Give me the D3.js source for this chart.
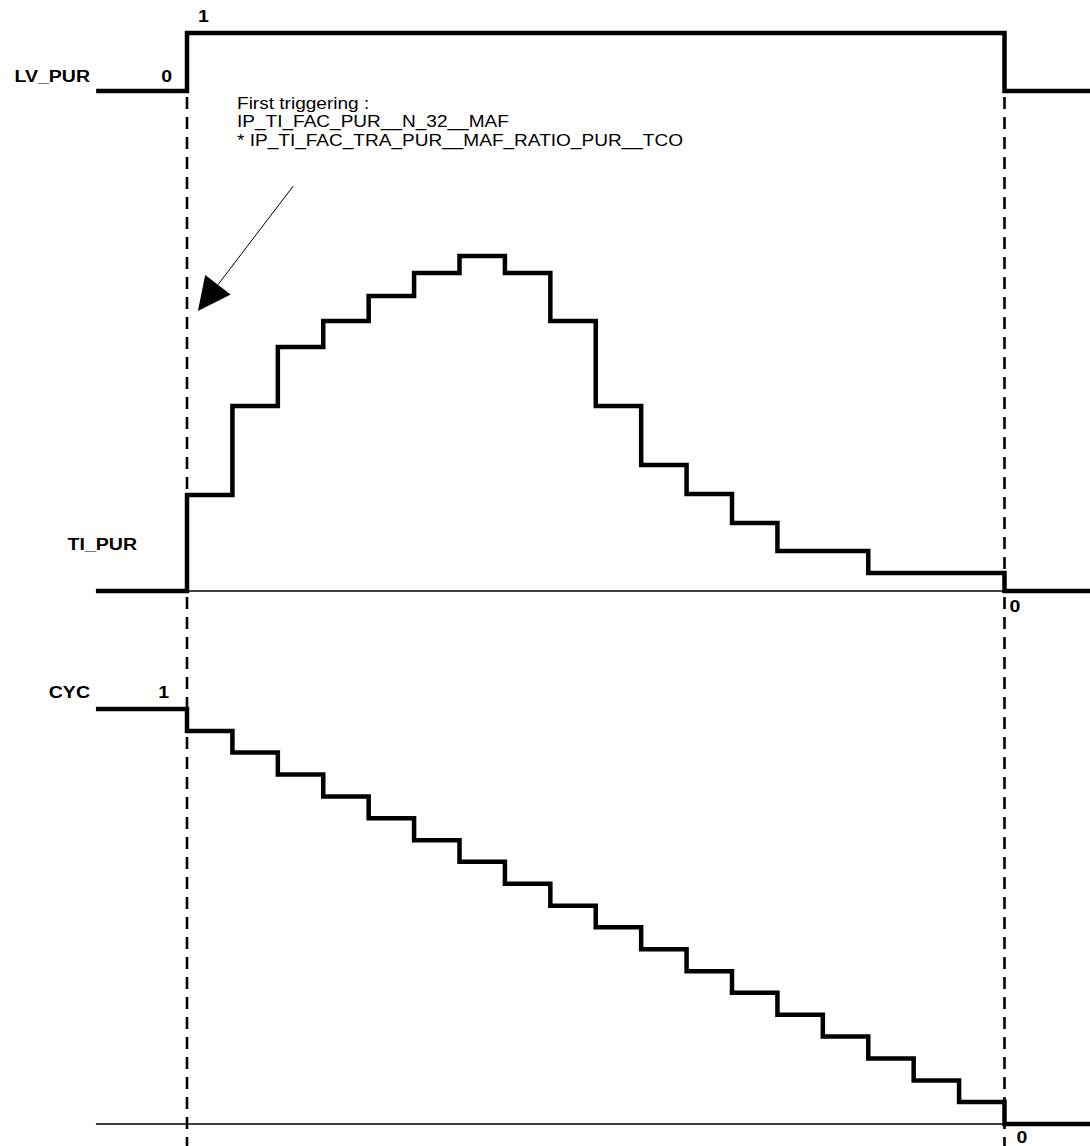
<!DOCTYPE html>
<html>
<head>
<meta charset="utf-8">
<script src="https://cdn.jsdelivr.net/npm/d3@7"></script>
<style>
  html, body { margin: 0; padding: 0; background: #fff; }
  svg { display: block; }
  text { font-family: "Liberation Sans", Arial, sans-serif; fill: #000; }
</style>
</head>
<body>
<svg id="chart" width="1090" height="1146"></svg>
<script>
// ---- data ----
// time axis: cycle index; 0 = rising edge of LV_PUR, 18 = falling edge
const lvTimes  = [-2, 0, 18, 19.9];
const lvPur    = [0, 1, 0, 0];

const cycleIdx = [0,1,2,3,4,5,6,7,8,9,10,11,12,13,14,15,16,17];
const tiPur    = [96,185,244,270,295,318,335,318,270,185,126,97,68,40,40,18,18,18];

const cyc      = [0.947,0.895,0.842,0.789,0.737,0.684,0.632,0.579,0.526,0.474,0.421,0.368,0.316,0.263,0.211,0.158,0.105,0.053];

const signalLabels = ["LV_PUR", "TI_PUR", "CYC"];
const annotationLines = ["First triggering :", "IP_TI_FAC_PUR__N_32__MAF", "* IP_TI_FAC_TRA_PUR__MAF_RATIO_PUR__TCO"];

// ---- scales ----
const svg = d3.select("#chart");
const x = d3.scaleLinear().domain([0, 18]).range([187, 1004.5]);
const xStart = -2.005, xEnd = 19.95;
const yLv  = d3.scaleLinear().domain([0, 1]).range([91, 33]);
const yTi  = d3.scaleLinear().domain([0, 335]).range([591, 256]);
const yCyc = d3.scaleLinear().domain([0, 1]).range([1124, 709]);

const step = (ys) => d3.line().x(d => x(d[0])).y(d => ys(d[1])).curve(d3.curveStepAfter);
const thick = 4.5;

// thin baselines
[[yTi, 0], [yCyc, 0]].forEach(([s, v]) => {
  svg.append("line")
    .attr("x1", x(xStart)).attr("x2", x(xEnd))
    .attr("y1", s(v)).attr("y2", s(v))
    .attr("stroke", "#000").attr("stroke-width", 1.3);
});

// dashed event lines
[0, 18].forEach(t => {
  svg.append("line")
    .attr("x1", x(t)).attr("x2", x(t))
    .attr("y1", yLv(0) + 6).attr("y2", 1146)
    .attr("stroke", "#000").attr("stroke-width", 2.6)
    .attr("stroke-dasharray", "12,8");
});

// LV_PUR
const lvData = lvTimes.map((t, i) => [t, lvPur[i]]);
svg.append("path").attr("d", step(yLv)(lvData))
  .attr("fill", "none").attr("stroke", "#000").attr("stroke-width", thick)
  .attr("stroke-linejoin", "miter");

// TI_PUR
const tiData = [[xStart, 0]].concat(cycleIdx.map((t, i) => [t, tiPur[i]]), [[18, 0], [xEnd, 0]]);
svg.append("path").attr("d", step(yTi)(tiData))
  .attr("fill", "none").attr("stroke", "#000").attr("stroke-width", thick)
  .attr("stroke-linejoin", "miter");

// CYC
const cycData = [[xStart, 1]].concat(cycleIdx.map((t, i) => [t, cyc[i]]), [[18, 0], [xEnd, 0]]);
svg.append("path").attr("d", step(yCyc)(cycData))
  .attr("fill", "none").attr("stroke", "#000").attr("stroke-width", thick)
  .attr("stroke-linejoin", "miter");

// text is drawn horizontally widened, as in the reference figure
const sxLabel = 1.15, sxNote = 1.19;
const bold = (txt, px, py, anchor) => svg.append("text").text(txt)
  .attr("transform", `translate(${px},${py}) scale(${sxLabel},1)`)
  .attr("font-size", 17).attr("font-weight", "bold")
  .attr("text-anchor", anchor || "start");

// signal labels
bold(signalLabels[0], 90, yLv(0) - 9, "end");
bold(signalLabels[1], 137, yTi(0) - 41, "end");
bold(signalLabels[2], 90, yCyc(1) - 11, "end");

// value labels
bold("0", x(0) - 15, yLv(0) - 9, "end");
bold("1", x(0) + 11, yLv(1) - 11);
bold("0", x(18) + 5, yTi(0) + 21);
bold("1", x(0) - 18, yCyc(1) - 11, "end");
bold("0", x(18) + 12, yCyc(0) + 19);

// annotation
annotationLines.forEach((l, i) => {
  svg.append("text").text(l)
    .attr("transform", `translate(237,${108.5 + i * 18.5}) scale(${sxNote},1)`)
    .attr("font-size", 16);
});

// arrow (positions in data units of the TI_PUR panel)
const arrowFrom = [2.34, 405];
const arrowTip  = [0.24, 280];
const p0 = [x(arrowFrom[0]), yTi(arrowFrom[1])];
const p1 = [x(arrowTip[0]), yTi(arrowTip[1])];
const ang = Math.atan2(p1[1] - p0[1], p1[0] - p0[0]);
const headLen = 33, headHalf = 16;
const bx = p1[0] - headLen * Math.cos(ang), by = p1[1] - headLen * Math.sin(ang);
svg.append("line").attr("x1", p0[0]).attr("y1", p0[1]).attr("x2", bx).attr("y2", by)
  .attr("stroke", "#000").attr("stroke-width", 1);
svg.append("path")
  .attr("d", d3.line()([
    p1,
    [bx + headHalf * Math.sin(ang), by - headHalf * Math.cos(ang)],
    [bx - headHalf * Math.sin(ang), by + headHalf * Math.cos(ang)]
  ]) + "Z")
  .attr("fill", "#000");
</script>
</body>
</html>
